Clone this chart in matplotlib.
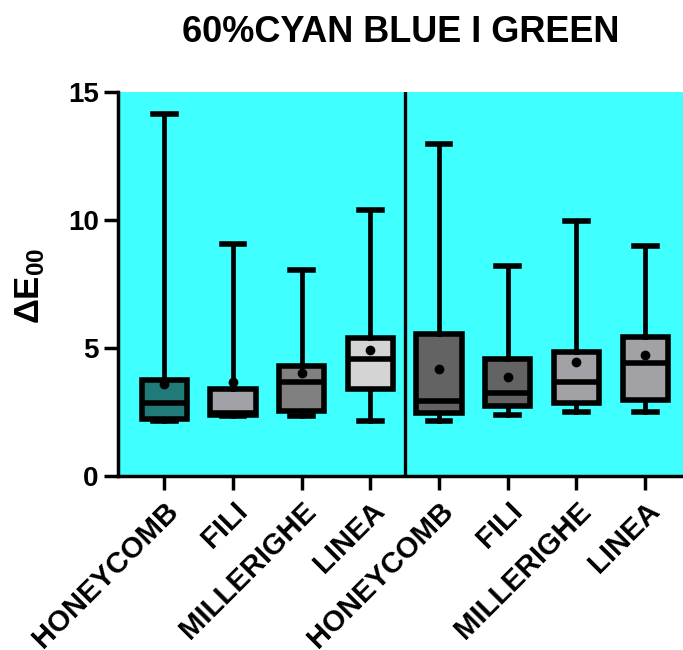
import matplotlib.pyplot as plt

plt.rcParams['font.family'] = ['Liberation Sans', 'DejaVu Sans']
plt.rcParams['font.weight'] = 'bold'
plt.rcParams['mathtext.fontset'] = 'custom'
plt.rcParams['mathtext.rm'] = 'Liberation Sans:bold'
plt.rcParams['mathtext.it'] = 'Liberation Sans:bold'
plt.rcParams['mathtext.bf'] = 'Liberation Sans:bold'

labels = ["HONEYCOMB", "FILI", "MILLERIGHE", "LINEA",
          "HONEYCOMB", "FILI", "MILLERIGHE", "LINEA"]
whis_lo = [2.16, 2.32, 2.32, 2.16, 2.16, 2.36, 2.50, 2.50]
q1 = [2.22, 2.37, 2.53, 3.39, 2.45, 2.73, 2.84, 2.97]
median = [2.86, 2.45, 3.68, 4.56, 2.93, 3.23, 3.68, 4.43]
q3 = [3.75, 3.41, 4.30, 5.40, 5.55, 4.56, 4.86, 5.44]
whis_hi = [14.15, 9.07, 8.05, 10.39, 12.97, 8.22, 9.97, 9.00]
mean = [3.60, 3.68, 4.04, 4.92, 4.19, 3.88, 4.44, 4.71]
colors = ["#1f7a78", "#a1a1a8", "#808080", "#d4d4d4",
          "#636363", "#636363", "#a1a1a6", "#a1a1a6"]

stats = []
for i in range(len(labels)):
    stats.append(dict(whislo=whis_lo[i], q1=q1[i], med=median[i], q3=q3[i],
                      whishi=whis_hi[i], mean=mean[i], fliers=[]))

fig = plt.figure(figsize=(6.83, 6.5), dpi=100)
ax = fig.add_axes([0.173, 0.268, 0.827, 0.59])
ax.set_facecolor("#40ffff")

pos = list(range(1, len(labels) + 1))
bp = ax.bxp(stats, positions=pos, widths=0.66, patch_artist=True, showmeans=True,
            boxprops=dict(linewidth=4, edgecolor='black'),
            medianprops=dict(color='black', linewidth=4),
            whiskerprops=dict(color='black', linewidth=3.4),
            capprops=dict(color='black', linewidth=4),
            meanprops=dict(marker='o', markerfacecolor='black',
                           markeredgecolor='black', markersize=6),
            capwidths=0.33)
for patch, c in zip(bp['boxes'], colors):
    patch.set_facecolor(c)

ax.axvline(4.5, color='black', linewidth=2.4)

ax.set_xlim(0.33, 8.55)
ax.set_ylim(0, 15)
ax.set_yticks([0, 5, 10, 15])
ax.set_xticks(pos)
ax.set_xticklabels(labels, rotation=45, ha='right', rotation_mode='anchor',
                   fontsize=21, fontweight='bold')
for t in ax.get_yticklabels():
    t.set_fontsize(20)
    t.set_fontweight('bold')
ax.tick_params(axis='both', width=2.5, length=10, direction='out')
ax.tick_params(axis='x', pad=5)
ax.tick_params(axis='y', pad=4)

for s in ['top', 'right']:
    ax.spines[s].set_visible(False)
for s in ['left', 'bottom']:
    ax.spines[s].set_linewidth(2.5)

ax.set_ylabel(r"$\Delta E_{00}$", fontsize=25)
ax.yaxis.set_label_coords(-0.126, 0.494)
ax.set_title("60%CYAN BLUE I GREEN", fontsize=26, fontweight='bold', pad=36)

fig.savefig("out.png", dpi=100)
